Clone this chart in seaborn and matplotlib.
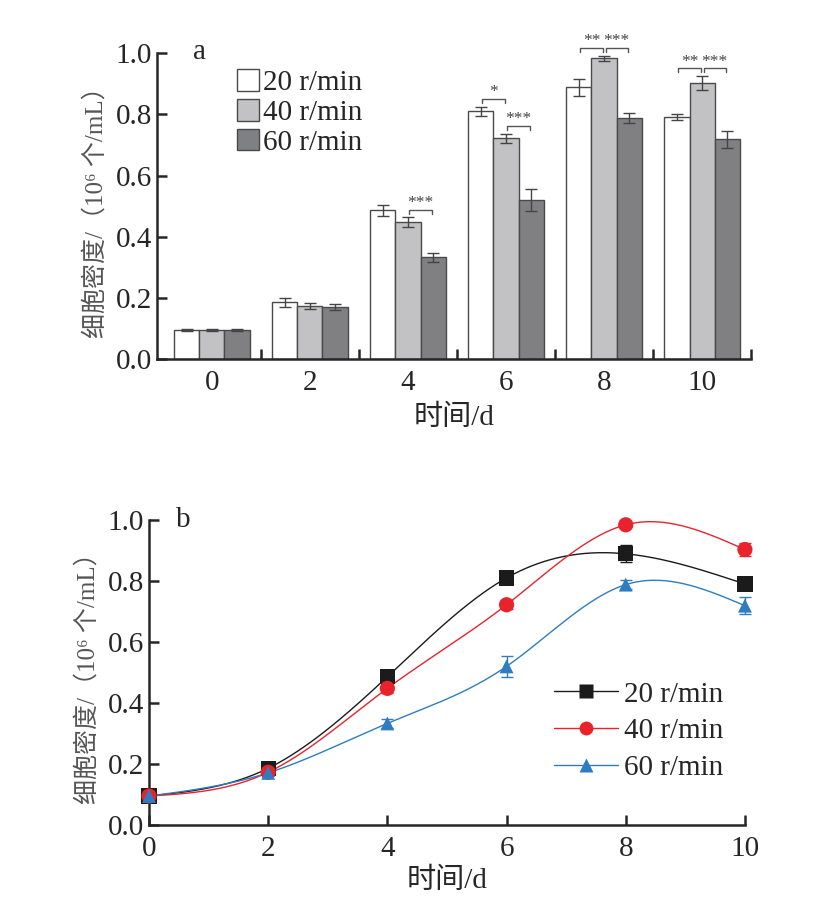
import numpy as np
import pandas as pd
import matplotlib
matplotlib.use("Agg")
import matplotlib.pyplot as plt
import seaborn as sns
from matplotlib.patches import Patch
from matplotlib.lines import Line2D

# data
days = [0, 2, 4, 6, 8, 10]
speeds = ["20 r/min", "40 r/min", "60 r/min"]
dens_20 = [0.095, 0.186, 0.486, 0.810, 0.889, 0.790]
dens_40 = [0.095, 0.173, 0.448, 0.722, 0.984, 0.903]
dens_60 = [0.095, 0.171, 0.333, 0.520, 0.788, 0.719]
err_20 = [0.003, 0.015, 0.018, 0.015, 0.028, 0.010]
err_40 = [0.003, 0.010, 0.015, 0.015, 0.008, 0.022]
err_60 = [0.003, 0.010, 0.015, 0.035, 0.016, 0.028]
# significance marks: (day index, bar i, bar j, label)
sig_marks = [(2, 1, 2, "***"), (3, 0, 1, "*"), (3, 1, 2, "***"),
             (4, 0, 1, "**"), (4, 1, 2, "***"), (5, 0, 1, "**"), (5, 1, 2, "***")]

dens = [dens_20, dens_40, dens_60]
errs = [err_20, err_40, err_60]

sns.set_theme(style="ticks")
plt.rcParams['font.family'] = ['Liberation Serif', 'Noto Sans CJK SC', 'DejaVu Serif']
plt.rcParams['axes.linewidth'] = 1.8

ylab = "细胞密度/（10⁶ 个/mL）"
fs = 21


def natural_spline(x, y, xs):
    x = np.asarray(x, float); y = np.asarray(y, float)
    n = len(x); h = np.diff(x)
    A = np.zeros((n, n)); b = np.zeros(n)
    A[0, 0] = A[-1, -1] = 1
    for i in range(1, n - 1):
        A[i, i - 1] = h[i - 1]; A[i, i] = 2 * (h[i - 1] + h[i]); A[i, i + 1] = h[i]
        b[i] = 3 * ((y[i + 1] - y[i]) / h[i] - (y[i] - y[i - 1]) / h[i - 1])
    c = np.linalg.solve(A, b)
    bb = (y[1:] - y[:-1]) / h - h * (2 * c[:-1] + c[1:]) / 3
    d = (c[1:] - c[:-1]) / (3 * h)
    k = np.clip(np.searchsorted(x, xs) - 1, 0, n - 2)
    t = xs - x[k]
    return y[k] + bb[k] * t + c[k] * t ** 2 + d[k] * t ** 3


fig = plt.figure(figsize=(8.3, 9.17), dpi=100)

# ---- panel a: bars
ax1 = fig.add_axes([0.189, 0.6085, 0.716, 0.3335])
df = pd.DataFrame({
    "day": [str(d) for s in speeds for d in days],
    "speed": [s for s in speeds for d in days],
    "value": [v for row in dens for v in row],
})
bar_colors = ["#ffffff", "#c2c2c4", "#7f8084"]
sns.barplot(data=df, x="day", y="value", hue="speed", palette=bar_colors,
            width=0.77, errorbar=None, edgecolor="#4a4a4a", linewidth=1.0,
            legend=False, ax=ax1)

bar_conts = list(ax1.containers)
centers = []
for k, cont in enumerate(bar_conts):
    xc = [p.get_x() + p.get_width() / 2 for p in cont]
    centers.append(xc)
    ax1.errorbar(xc, dens[k], yerr=errs[k], fmt="none", ecolor="#444444",
                 elinewidth=1.0, capsize=4, capthick=1.0)

for gi, i, j, lab in sig_marks:
    top = max(dens[i][gi] + errs[i][gi], dens[j][gi] + errs[j][gi])
    yb = top + 0.025
    x1, x2 = centers[i][gi] + 0.015, centers[j][gi] - 0.015
    ax1.plot([x1, x1, x2, x2], [yb - 0.013, yb, yb, yb - 0.013], color="#555555",
             lw=1.0, clip_on=False)
    ax1.text((x1 + x2) / 2, yb - 0.004, lab, ha="center", va="bottom",
             fontsize=12.5, color="#444444", clip_on=False)

ax1.set_ylim(0, 1.0)
ax1.set_xlim(-0.56, 5.48)
ax1.set_yticks(np.arange(0, 1.01, 0.2))
ax1.set_yticklabels([f"{v:.1f}" for v in np.arange(0, 1.01, 0.2)])
ax1.set_xticks(range(6))
ax1.set_xticklabels([str(d) for d in days])
ax1.set_xticks(np.arange(0.5, 6, 1), minor=True)
ax1.tick_params(axis="x", which="major", length=0, labelsize=fs, pad=8)
ax1.tick_params(axis="x", which="minor", direction="in", length=7, width=1.8)
ax1.tick_params(axis="y", direction="in", length=7, width=1.8, labelsize=fs)
ax1.set_xlabel("时间/d", fontsize=fs, labelpad=6)
ax1.set_ylabel(ylab, fontsize=18, color="#555555", labelpad=6)
sns.despine(ax=ax1)
ax1.text(0.072, 1.003, "a", transform=ax1.transAxes, fontsize=fs,
         ha="center", va="center")
handles = [Patch(facecolor=c, edgecolor="#4a4a4a", linewidth=1.0) for c in bar_colors]
ax1.legend(handles, speeds, loc="upper left", bbox_to_anchor=(0.115, 0.985),
           frameon=False, fontsize=fs, handlelength=0.75, handleheight=0.75,
           handletextpad=0.15, labelspacing=0.1, borderaxespad=0)

# ---- panel b: smoothed lines
ax2 = fig.add_axes([0.1795, 0.1003, 0.718, 0.3327])
line_colors = ["#1b1b1b", "#e8232b", "#2f7cc0"]
mark_colors = ["#1b1b1b", "#e8232b", "#2f7cc0"]
markers = ["s", "o", "^"]
xs = np.linspace(0, 10, 300)
for k in range(3):
    ax2.plot(xs, natural_spline(days, dens[k], xs), color=line_colors[k], lw=1.0)
    ax2.errorbar(days, dens[k], yerr=errs[k], fmt="none", ecolor=line_colors[k],
                 elinewidth=1.0, capsize=4, capthick=1.0, clip_on=False)
    sns.scatterplot(x=days, y=dens[k], marker=markers[k], color=mark_colors[k],
                    s=120 if k < 2 else 100, edgecolor="none", ax=ax2,
                    clip_on=False, zorder=5)

ax2.set_xlim(0, 10)
ax2.set_ylim(0, 1.0)
ax2.set_xticks(days)
ax2.set_yticks(np.arange(0, 1.01, 0.2))
ax2.set_yticklabels([f"{v:.1f}" for v in np.arange(0, 1.01, 0.2)])
ax2.tick_params(axis="both", direction="in", length=7, width=1.8, labelsize=fs)
ax2.tick_params(axis="x", pad=8)
ax2.set_xlabel("时间/d", fontsize=fs, labelpad=4)
ax2.set_ylabel(ylab, fontsize=18, color="#555555", labelpad=6)
sns.despine(ax=ax2)
ax2.text(0.058, 1.0, "b", transform=ax2.transAxes, fontsize=fs,
         ha="center", va="center")
lh = [Line2D([0], [0], color=line_colors[k], marker=markers[k], markersize=10,
             markeredgecolor="none", lw=1.0) for k in range(3)]
ax2.legend(lh, speeds, loc="upper left", bbox_to_anchor=(0.66, 0.51),
           frameon=False, fontsize=fs, handlelength=2.2, handletextpad=0.2,
           labelspacing=0.35, borderaxespad=0)

fig.savefig("out.png", dpi=100)
